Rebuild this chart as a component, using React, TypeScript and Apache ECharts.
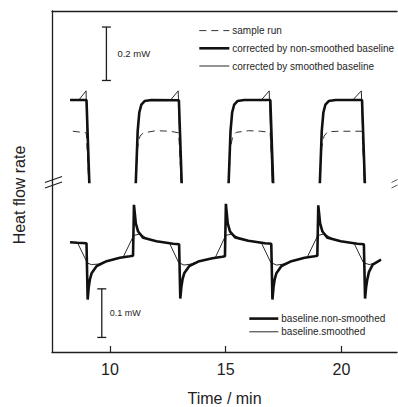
import React, { useEffect, useRef } from 'react';
import * as echarts from 'echarts';

// time axis (min)
const xTicks = [10, 15, 20];
const xMin = 7.5;
const xMax = 22.4;

// upper panel (mW, offset) – values below 0 fall in the axis break
const sampleRun: number[][] = [
  [8.4, 0.19], [8.98, 0.184], [9.12, -0.05], [11.0, -0.1],
  [11.12, 0.0], [11.2, 0.13], [11.3, 0.172], [11.45, 0.184], [12.0, 0.192], [12.6, 0.19], [12.97, 0.184], [13.11, -0.05], [15.0, -0.1],
  [15.13, 0.0], [15.21, 0.13], [15.31, 0.172], [15.46, 0.186], [16.0, 0.192], [16.5, 0.19], [16.92, 0.186], [17.06, -0.05], [19.0, -0.1],
  [19.07, 0.0], [19.15, 0.13], [19.25, 0.172], [19.4, 0.188], [19.9, 0.19], [20.5, 0.19], [20.89, 0.19], [21.03, -0.05], [21.7, -0.1],
];
const correctedNonSmoothed: number[][] = [
  [8.28, 0.307], [8.99, 0.307], [9.13, -0.05], [11.0, -0.1],
  [11.12, 0.0], [11.2, 0.19], [11.27, 0.26], [11.36, 0.29], [11.5, 0.303], [11.8, 0.307], [12.98, 0.306], [13.12, -0.05], [15.0, -0.1],
  [15.13, 0.0], [15.21, 0.19], [15.28, 0.26], [15.37, 0.29], [15.51, 0.303], [15.8, 0.307], [16.93, 0.307], [17.07, -0.05], [19.0, -0.1],
  [19.07, 0.0], [19.15, 0.19], [19.22, 0.26], [19.31, 0.29], [19.45, 0.303], [19.75, 0.307], [20.89, 0.307], [21.03, -0.05], [21.7, -0.1],
];
const correctedSmoothed: number[][] = [
  [8.28, 0.307], [8.66, 0.307], [8.97, 0.341], [9.1, -0.05], [11.0, -0.1],
  [11.12, 0.0], [11.2, 0.19], [11.27, 0.26], [11.36, 0.29], [11.5, 0.303], [11.8, 0.307], [12.62, 0.307], [12.95, 0.341], [13.09, -0.05], [15.0, -0.1],
  [15.13, 0.0], [15.21, 0.19], [15.28, 0.26], [15.37, 0.29], [15.51, 0.303], [15.8, 0.307], [16.54, 0.307], [16.88, 0.341], [17.02, -0.05], [19.0, -0.1],
  [19.07, 0.0], [19.15, 0.19], [19.22, 0.26], [19.31, 0.29], [19.45, 0.303], [19.75, 0.307], [20.49, 0.307], [20.86, 0.341], [21.0, -0.05], [21.7, -0.1],
];

// lower panel (mW, offset)
const baselineNonSmoothed: number[][] = [
  [8.28, 0.226], [8.6, 0.225],
  [8.99, 0.224], [9.04, 0.108], [9.09, 0.135], [9.14, 0.15], [9.21, 0.162], [9.43, 0.177], [9.86, 0.187], [10.43, 0.194], [10.86, 0.197], [11.0, 0.198],
  [11.04, 0.303], [11.12, 0.265], [11.22, 0.248], [11.44, 0.235], [12.01, 0.228], [12.73, 0.223], [12.99, 0.222],
  [13.04, 0.11], [13.09, 0.135], [13.14, 0.15], [13.21, 0.162], [13.43, 0.177], [13.86, 0.187], [14.43, 0.193], [14.85, 0.196], [14.97, 0.197],
  [15.01, 0.305], [15.09, 0.265], [15.19, 0.248], [15.41, 0.236], [15.98, 0.229], [16.7, 0.224], [16.97, 0.223],
  [17.02, 0.108], [17.07, 0.135], [17.12, 0.15], [17.19, 0.162], [17.41, 0.177], [17.84, 0.187], [18.41, 0.194], [18.84, 0.197], [18.96, 0.198],
  [19.0, 0.302], [19.08, 0.265], [19.18, 0.248], [19.4, 0.235], [19.97, 0.228], [20.69, 0.223], [20.97, 0.222],
  [21.02, 0.11], [21.07, 0.135], [21.12, 0.15], [21.19, 0.165], [21.35, 0.18], [21.71, 0.19],
];
const baselineSmoothed: number[][] = [
  [8.28, 0.226], [8.6, 0.225], [9.03, 0.183], [9.2, 0.18], [9.5, 0.181], [9.86, 0.187], [10.43, 0.194],
  [10.57, 0.195], [11.03, 0.24], [11.3, 0.243], [11.6, 0.234], [12.01, 0.228],
  [12.58, 0.2235], [12.97, 0.184], [13.2, 0.179], [13.5, 0.181], [13.86, 0.187], [14.43, 0.193],
  [14.55, 0.194], [15.0, 0.24], [15.27, 0.243], [15.6, 0.234], [15.98, 0.229],
  [16.55, 0.224], [16.95, 0.184], [17.2, 0.179], [17.5, 0.181], [17.84, 0.187], [18.41, 0.194],
  [18.52, 0.195], [18.98, 0.24], [19.25, 0.243], [19.6, 0.234], [19.97, 0.228],
  [20.55, 0.2235], [20.95, 0.184], [21.2, 0.18], [21.45, 0.183], [21.71, 0.19],
];

// scale bars: [time, from, to]
const scaleUpper = [[9.85, 0.38, 0.58]];
const scaleLower = [[9.65, 0.03, 0.13]];
const scaleUpperLabel = '0.2 mW';
const scaleLowerLabel = '0.1 mW';

const upperNames = ['sample run', 'corrected by non-smoothed baseline', 'corrected by smoothed baseline'];
const lowerNames = ['baseline.non-smoothed', 'baseline.smoothed'];

const fontMain = "'Liberation Sans', Arial, Helvetica, sans-serif";
const ink = '#1e1e1e';

function scaleBar(label: string, offset: number, fs: number) {
  return (params: any, api: any) => {
    const x = api.value(0);
    const p0 = api.coord([x, api.value(1)]);
    const p1 = api.coord([x, api.value(2)]);
    const ls = { stroke: ink, lineWidth: 1.3 };
    return {
      type: 'group',
      children: [
        { type: 'line', shape: { x1: p0[0], y1: p0[1], x2: p1[0], y2: p1[1] }, style: ls },
        { type: 'line', shape: { x1: p0[0] - 4.5, y1: p0[1], x2: p0[0] + 4.5, y2: p0[1] }, style: ls },
        { type: 'line', shape: { x1: p1[0] - 4.5, y1: p1[1], x2: p1[0] + 4.5, y2: p1[1] }, style: ls },
        {
          type: 'text',
          style: {
            text: label, x: p0[0] + offset, y: (p0[1] + p1[1]) / 2,
            align: 'left', verticalAlign: 'middle', fill: ink,
            fontSize: fs, fontFamily: fontMain,
          },
        },
      ],
    };
  };
}

export default function App() {
  const ref = useRef<HTMLDivElement>(null);
  useEffect(() => {
    if (!ref.current) return;
    const chart = echarts.init(ref.current, undefined, { renderer: 'svg' });
    const axisLine = { show: true, onZero: false, lineStyle: { color: ink, width: 1.3 } };
    const legendCommon = {
      orient: 'vertical', itemHeight: 14, selectedMode: false,
      itemStyle: { opacity: 0 },
      lineStyle: { width: 'inherit' },
      textStyle: { fontSize: 10, fontFamily: fontMain, color: ink, padding: [0, 0, 0, -2] },
    };
    const option: any = {
      animation: false,
      backgroundColor: '#fff',
      grid: [
        { left: 52, top: 11, width: 345, height: 171 },
        { left: 52, top: 182, width: 345, height: 171 },
      ],
      xAxis: [
        {
          type: 'value', gridIndex: 0, position: 'top', min: xMin, max: xMax,
          axisLine, axisTick: { show: false }, axisLabel: { show: false }, splitLine: { show: false },
        },
        {
          type: 'value', gridIndex: 1, position: 'bottom', min: xMin, max: xMax,
          axisLine,
          axisTick: { show: true, inside: true, length: 6, customValues: xTicks, lineStyle: { color: ink, width: 1.2 } },
          axisLabel: { show: true, customValues: xTicks, margin: 9, fontSize: 16, fontFamily: fontMain, color: '#222' },
          splitLine: { show: false },
          name: 'Time / min', nameLocation: 'middle', nameGap: 38,
          nameTextStyle: { fontSize: 16, fontFamily: fontMain, color: '#222' },
        },
      ],
      yAxis: [
        {
          type: 'value', gridIndex: 0, min: 0, max: 0.64,
          axisLine, axisTick: { show: false }, axisLabel: { show: false }, splitLine: { show: false },
        },
        {
          type: 'value', gridIndex: 1, min: 0, max: 0.35,
          axisLine, axisTick: { show: false }, axisLabel: { show: false }, splitLine: { show: false },
        },
      ],
      legend: [
        { ...legendCommon, data: upperNames, left: 193, top: 20, itemWidth: 30, itemGap: 6.5 },
        { ...legendCommon, data: lowerNames, left: 243, top: 308, itemWidth: 29, itemGap: 2 },
      ],
      series: [
        {
          name: upperNames[0], type: 'line', xAxisIndex: 0, yAxisIndex: 0, data: sampleRun,
          symbol: 'none', clip: true, lineStyle: { color: '#333', width: 1, type: [7, 5] }, itemStyle: { color: '#333' },
        },
        {
          name: upperNames[2], type: 'line', xAxisIndex: 0, yAxisIndex: 0, data: correctedSmoothed,
          symbol: 'none', clip: true, lineStyle: { color: '#2a2a2a', width: 1 }, itemStyle: { color: '#2a2a2a' },
        },
        {
          name: upperNames[1], type: 'line', xAxisIndex: 0, yAxisIndex: 0, data: correctedNonSmoothed,
          symbol: 'none', clip: true, lineStyle: { color: '#111', width: 2.6 }, itemStyle: { color: '#111' },
        },
        {
          name: lowerNames[1], type: 'line', xAxisIndex: 1, yAxisIndex: 1, data: baselineSmoothed,
          symbol: 'none', clip: true, lineStyle: { color: '#2a2a2a', width: 1 }, itemStyle: { color: '#2a2a2a' },
        },
        {
          name: lowerNames[0], type: 'line', xAxisIndex: 1, yAxisIndex: 1, data: baselineNonSmoothed,
          symbol: 'none', clip: true, lineStyle: { color: '#111', width: 2.6 }, itemStyle: { color: '#111' },
        },
        {
          type: 'custom', xAxisIndex: 0, yAxisIndex: 0, data: scaleUpper,
          renderItem: scaleBar(scaleUpperLabel, 11, 9.5), encode: { x: 0, y: 1 }, silent: true,
        },
        {
          type: 'custom', xAxisIndex: 1, yAxisIndex: 1, data: scaleLower,
          renderItem: scaleBar(scaleLowerLabel, 8, 9), encode: { x: 0, y: 1 }, silent: true,
        },
      ],
      graphic: [
        { type: 'line', shape: { x1: 45, y1: 182.5, x2: 62, y2: 176.5 }, style: { stroke: ink, lineWidth: 1.1 } },
        { type: 'line', shape: { x1: 45, y1: 188, x2: 62, y2: 182 }, style: { stroke: ink, lineWidth: 1.1 } },
        { type: 'line', shape: { x1: 391.5, y1: 182.5, x2: 397.5, y2: 179.5 }, style: { stroke: '#555', lineWidth: 1 } },
        { type: 'line', shape: { x1: 391.5, y1: 188, x2: 397.5, y2: 185 }, style: { stroke: '#555', lineWidth: 1 } },
        {
          type: 'text', x: 19, y: 195, rotation: Math.PI / 2,
          style: { text: 'Heat flow rate', fontSize: 16, fontFamily: fontMain, fill: '#222', align: 'center', verticalAlign: 'middle' },
        },
      ],
    };
    chart.setOption(option);
    return () => chart.dispose();
  }, []);
  return <div ref={ref} style={{ position: 'fixed', left: 0, top: 0, width: 398, height: 407 }} />;
}
